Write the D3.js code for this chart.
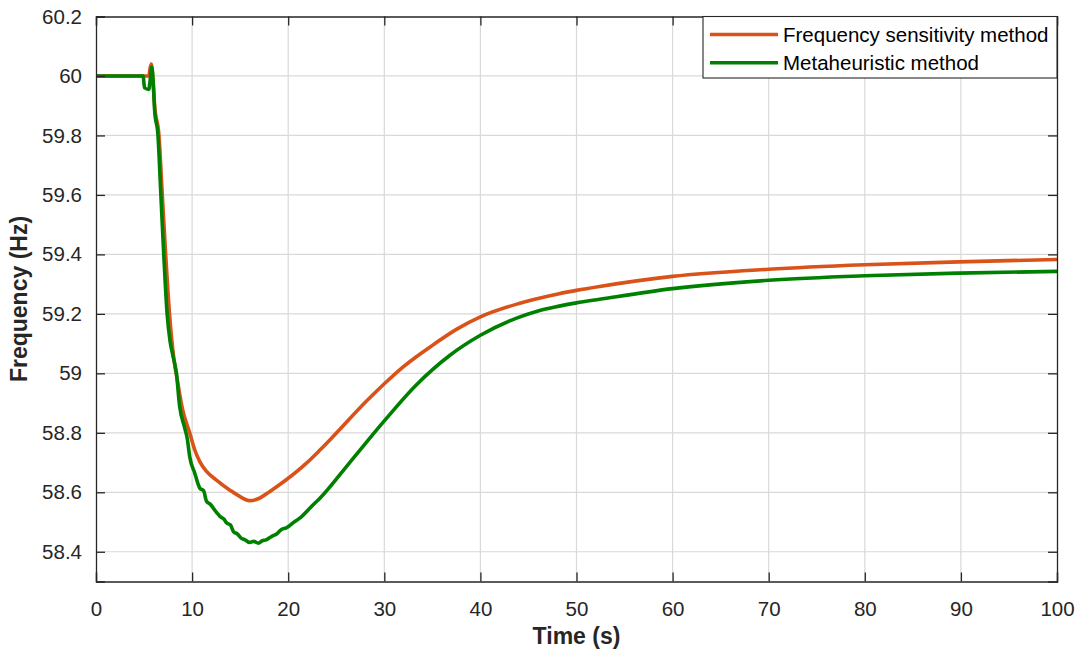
<!DOCTYPE html>
<html><head><meta charset="utf-8">
<script src="https://cdn.jsdelivr.net/npm/d3@7"></script>
<style>
html,body{margin:0;padding:0;background:#fff;}
svg{display:block;font-family:"Liberation Sans",Arial,Helvetica,sans-serif;}
</style></head>
<body><svg id="c" width="1084" height="662"></svg>
<script>
// ---- data ----
const seriesNames = ["Frequency sensitivity method", "Metaheuristic method"];
const xTicks = [0,10,20,30,40,50,60,70,80,90,100];
const yTicks = [58.4,58.6,58.8,59,59.2,59.4,59.6,59.8,60,60.2];

const timeFSM = [0,5.5,5.6,5.75,5.9,6.1,6.55,6.9,7.25,7.65,8.1,8.5,9.0,9.75,10.27,10.8,11.5,12.5,13.9,14.95,16.0,17.0,18.1,19.8,21.9,23.3,24.6,28.1,30,31.6,33.3,35,37.5,40,43.7,46,48.2,50,52.4,60,70,80,89.8,100];
const freqFSM = [60,60,60.02,60.04,60.0,59.9,59.8,59.6,59.4,59.2,59.05,58.97,58.88,58.8,58.743,58.703,58.67,58.642,58.608,58.586,58.572,58.58,58.603,58.642,58.698,58.742,58.785,58.905,58.965,59.012,59.055,59.094,59.148,59.19,59.232,59.252,59.268,59.279,59.292,59.326,59.35,59.365,59.375,59.383];

const timeMeta = [0,4.9,5.05,5.5,5.65,5.8,5.95,6.1,6.45,6.75,7.05,7.4,7.7,8.0,8.37,8.7,9.2,9.5,9.75,10.27,10.8,11.2,11.5,11.9,12.2,12.6,12.9,13.3,13.6,14.0,14.3,14.7,15.1,15.5,16.0,16.4,16.9,17.3,17.7,18.3,18.8,19.3,19.8,20.5,21.2,22.6,23.3,26.4,30,33.3,36.8,40,43.7,46,48.2,50,52.4,60,70,80,89.8,100];
const freqMeta = [60,60,59.96,59.955,59.99,60.03,59.98,59.885,59.8,59.6,59.4,59.2,59.11,59.06,59.0,58.89,58.82,58.78,58.72,58.665,58.614,58.605,58.57,58.56,58.547,58.53,58.519,58.51,58.497,58.49,58.468,58.46,58.446,58.44,58.431,58.435,58.429,58.437,58.44,58.452,58.46,58.475,58.48,58.497,58.513,58.558,58.58,58.70,58.84,58.96,59.06,59.128,59.185,59.21,59.226,59.237,59.249,59.285,59.313,59.328,59.337,59.343];

const colors = ["#D95319", "#008000"];

// ---- layout ----
const L = 96, R = 1057, T = 16.5, B = 581.5;
const svg = d3.select("#c");
const x = d3.scaleLinear().domain([0,100]).range([L,R]);
const y = d3.scaleLinear().domain([58.3,60.2]).range([B,T]);
const axisCol = "#262626";

// grid
const g = svg.append("g");
g.selectAll(".gx").data(xTicks.slice(1,-1)).enter().append("line")
  .attr("x1",d=>x(d)).attr("x2",d=>x(d)).attr("y1",T).attr("y2",B)
  .attr("stroke","#d9d9d9").attr("stroke-width",1.2);
g.selectAll(".gy").data(yTicks.filter(v=>v<60.2)).enter().append("line")
  .attr("y1",d=>y(d)).attr("y2",d=>y(d)).attr("x1",L).attr("x2",R)
  .attr("stroke","#d9d9d9").attr("stroke-width",1.2);

// lines
const line = d3.line().x(d=>x(d[0])).y(d=>y(d[1])).curve(d3.curveMonotoneX);
const dataFSM = timeFSM.map((t,i)=>[t,freqFSM[i]]);
const dataMeta = timeMeta.map((t,i)=>[t,freqMeta[i]]);
svg.append("clipPath").attr("id","cp").append("rect")
  .attr("x",L).attr("y",T).attr("width",R-L).attr("height",B-T);
svg.append("path").attr("d",line(dataFSM)).attr("fill","none")
  .attr("stroke",colors[0]).attr("stroke-width",3.6).attr("stroke-linejoin","round")
  .attr("clip-path","url(#cp)");
svg.append("path").attr("d",line(dataMeta)).attr("fill","none")
  .attr("stroke",colors[1]).attr("stroke-width",3.6).attr("stroke-linejoin","round")
  .attr("clip-path","url(#cp)");

// axes (ticks inward, box)
const fmtY = d => (Math.round(d*10)/10).toString();
const ax = svg.append("g").attr("transform",`translate(0,${B})`)
  .call(d3.axisBottom(x).tickValues(xTicks).tickSize(-9).tickPadding(20).tickFormat(d3.format("d")));
const ay = svg.append("g").attr("transform",`translate(${L},0)`)
  .call(d3.axisLeft(y).tickValues(yTicks).tickSize(-9).tickPadding(14).tickFormat(fmtY));
const axT = svg.append("g").attr("transform",`translate(0,${T})`)
  .call(d3.axisTop(x).tickValues(xTicks).tickSize(-9).tickFormat(""));
const ayR = svg.append("g").attr("transform",`translate(${R},0)`)
  .call(d3.axisRight(y).tickValues(yTicks).tickSize(-9).tickFormat(""));
[ax,ay,axT,ayR].forEach(a=>{
  a.select(".domain").attr("stroke",axisCol).attr("stroke-width",1.3);
  a.selectAll(".tick line").attr("stroke",axisCol).attr("stroke-width",1.3);
  a.selectAll(".tick text").attr("fill",axisCol).attr("font-size",20.5)
   .attr("font-family","'Liberation Sans',Arial,sans-serif");
});

// axis titles
svg.append("text").attr("x",(L+R)/2).attr("y",644).attr("text-anchor","middle")
  .attr("font-size",23).attr("font-weight","bold").attr("fill",axisCol).text("Time (s)");
svg.append("text").attr("transform",`translate(27,${(T+B)/2}) rotate(-90)`)
  .attr("text-anchor","middle").attr("font-size",23).attr("font-weight","bold")
  .attr("fill",axisCol).text("Frequency (Hz)");

// legend
const lg = svg.append("g");
lg.append("rect").attr("x",703).attr("y",T).attr("width",R-703).attr("height",78-T)
  .attr("fill","#fff").attr("stroke",axisCol).attr("stroke-width",1.1);
seriesNames.forEach((n,i)=>{
  const yy = 34.5 + i*28.3;
  lg.append("line").attr("x1",710).attr("x2",778).attr("y1",yy).attr("y2",yy)
    .attr("stroke",colors[i]).attr("stroke-width",3.6);
  lg.append("text").attr("x",783).attr("y",yy).attr("dy","0.35em")
    .attr("font-size",20.5).attr("fill","#000").text(n);
});
</script></body></html>
